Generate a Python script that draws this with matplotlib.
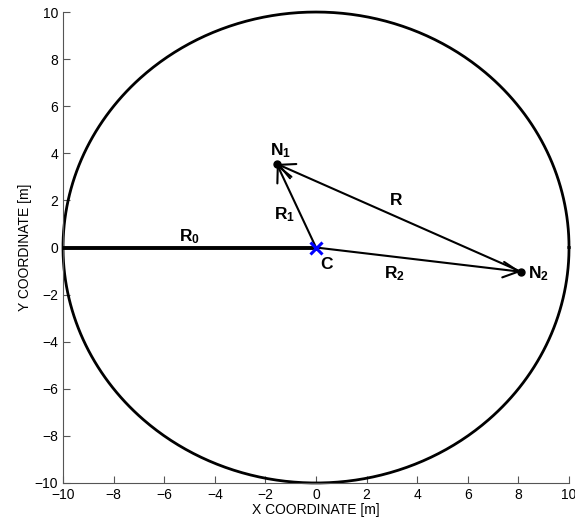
import matplotlib.pyplot as plt
import numpy as np

plt.rcParams['font.family'] = ['Liberation Sans', 'DejaVu Sans']
plt.rcParams['mathtext.fontset'] = 'custom'
plt.rcParams['mathtext.rm'] = 'Liberation Sans'
plt.rcParams['mathtext.bf'] = 'Liberation Sans:bold'

# node positions [m]
radius = 10.0
center = [0.0, 0.0]
n1 = [-1.55, 3.55]
n2 = [8.1, -1.03]
r0_start = [-10.0, 0.0]

# label text and their positions
labels = [r'$\mathbf{N_1}$', r'$\mathbf{N_2}$', r'$\mathbf{C}$',
          r'$\mathbf{R}$', r'$\mathbf{R_1}$', r'$\mathbf{R_2}$', r'$\mathbf{R_0}$']
label_x = [-1.4, 8.8, 0.42, 3.15, -1.25, 3.1, -5.0]
label_y = [4.1, -1.1, -0.7, 2.02, 1.4, -1.12, 0.45]

ticks = np.arange(-10, 11, 2)

fig = plt.figure(figsize=(5.75, 5.3), dpi=100)
ax = fig.add_axes([0.1096, 0.0887, 0.8800, 0.8886])

# boundary circle
theta = np.linspace(0, 2 * np.pi, 721)
ax.plot(center[0] + radius * np.cos(theta), center[1] + radius * np.sin(theta),
        color='black', lw=2, zorder=2, clip_on=False)

# R0 thick line
ax.plot([r0_start[0], center[0]], [r0_start[1], center[1]], color='black', lw=2.8, zorder=3)

# vectors
arrow = dict(arrowstyle='->', color='black', lw=1.5, mutation_scale=28, shrinkA=0, shrinkB=0)
ax.annotate('', xy=n1, xytext=center, arrowprops=arrow)
ax.annotate('', xy=n1, xytext=n2, arrowprops=arrow)
ax.annotate('', xy=n2, xytext=center, arrowprops=arrow)

# nodes
ax.plot([n1[0], n2[0]], [n1[1], n2[1]], 'o', color='black', ms=5, zorder=4)
ax.plot(center[0], center[1], 'x', color='blue', ms=9, mew=2.2, zorder=5)

for txt, x, y in zip(labels, label_x, label_y):
    ax.text(x, y, txt, ha='center', va='center', fontsize=12.5)

ax.set_xlim(-10, 10)
ax.set_ylim(-10, 10)
ax.set_xticks(ticks)
ax.set_yticks(ticks)
ax.set_xticklabels([str(t).replace('-', '\u2212') for t in ticks])
ax.set_yticklabels([str(t).replace('-', '\u2212') for t in ticks])
ax.tick_params(direction='in', length=5, color='#555555', labelsize=10)
for side in ['top', 'right']:
    ax.spines[side].set_visible(False)
for side in ['left', 'bottom']:
    ax.spines[side].set_color('#555555')
ax.set_xlabel('X COORDINATE [m]', fontsize=10, labelpad=1)
ax.set_ylabel('Y COORDINATE [m]', fontsize=10, labelpad=2)

fig.savefig('out.png', dpi=100)
